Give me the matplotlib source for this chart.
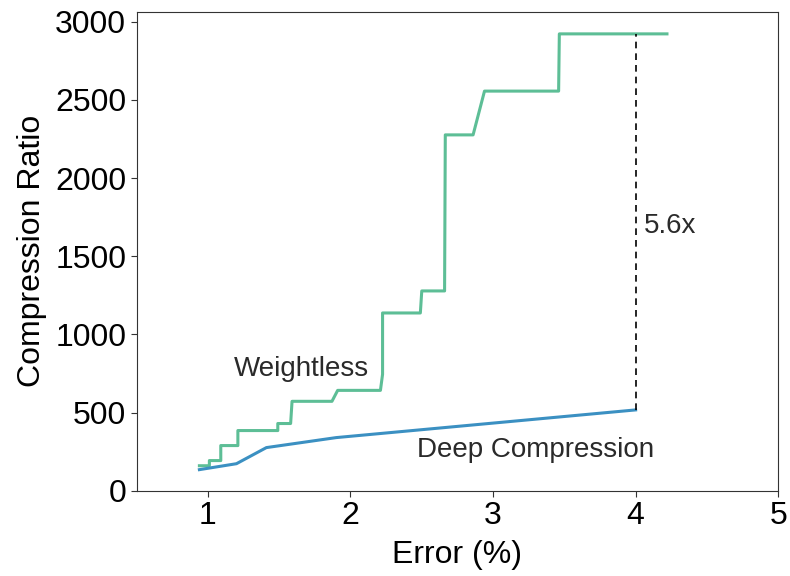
import matplotlib.pyplot as plt

plt.rcParams['font.family'] = ['Liberation Sans', 'DejaVu Sans']

# Weightless: stepped trade-off curve (error %, compression ratio)
weightless_err = [0.94, 1.01, 1.01, 1.09, 1.09, 1.21, 1.21, 1.49, 1.49, 1.58, 1.59,
                  1.87, 1.91, 2.21, 2.225, 2.225, 2.49, 2.50, 2.66, 2.665, 2.86, 2.94,
                  3.46, 3.465, 4.22]
weightless_cr = [160, 160, 193, 193, 289, 289, 385, 385, 430, 430, 572,
                 572, 642, 642, 745, 1137, 1137, 1278, 1278, 2276, 2276, 2556,
                 2556, 2922, 2922]

# Deep Compression baseline
deep_err = [0.94, 1.2, 1.41, 1.9, 4.0]
deep_cr = [135, 173, 276, 340, 517]

gap_err = 4.0
gap_top = 2922
gap_bottom = 517

fig, ax = plt.subplots(figsize=(7.9, 5.76), dpi=100)

ax.plot(weightless_err, weightless_cr, color='#5dbe96', lw=2.2)
ax.plot(deep_err, deep_cr, color='#3b90c2', lw=2.2)
ax.plot([gap_err, gap_err], [gap_bottom, gap_top], color='black', lw=1.2, ls=(0, (4, 3)))

ax.text(1.18, 777, 'Weightless', fontsize=20, color='#2a2a2a', va='center')
ax.text(2.47, 263, 'Deep Compression', fontsize=20, color='#2a2a2a', va='center')
ax.text(4.06, 1696, '5.6x', fontsize=20, color='#2a2a2a', va='center')

ax.set_xlim(0.5, 5)
ax.set_ylim(0, 3065)
ax.set_xticks([1, 2, 3, 4, 5])
ax.set_yticks([0, 500, 1000, 1500, 2000, 2500, 3000])
ax.tick_params(labelsize=23, length=4, color='#333333')
ax.set_xlabel('Error (%)', fontsize=23, labelpad=6)
ax.set_ylabel('Compression Ratio', fontsize=23, labelpad=6)
for s in ax.spines.values():
    s.set_color('#333333')

fig.subplots_adjust(left=0.173, right=0.985, top=0.98, bottom=0.148)
fig.savefig('out.png')
